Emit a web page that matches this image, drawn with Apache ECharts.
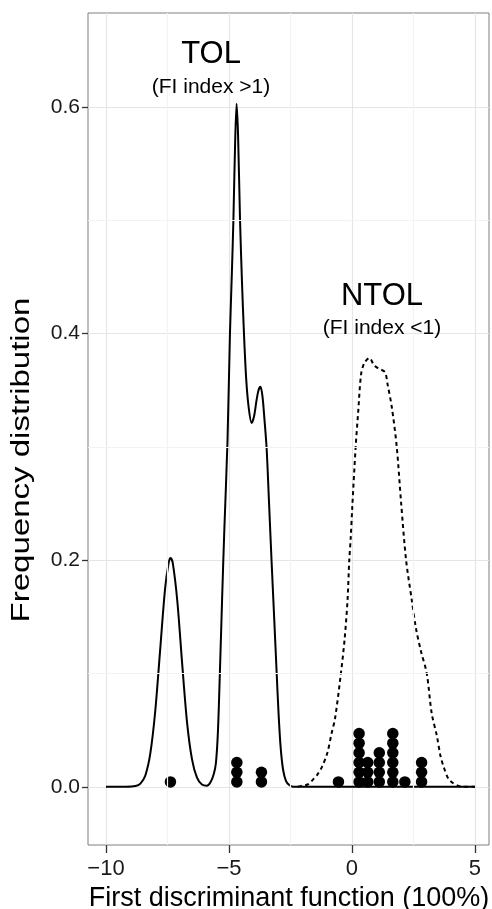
<!DOCTYPE html>
<html><head><meta charset="utf-8">
<script src="https://cdn.jsdelivr.net/npm/echarts@6/dist/echarts.min.js"></script>
<style>html,body{margin:0;padding:0;background:#fff}#c{width:492px;height:909px}</style>
</head><body><div id="c"></div>
<script>
// TOL density (solid)
const tolX = [-10, -9.2, -8.8, -8.6, -8.4, -8.2, -8.0, -7.8, -7.6, -7.45, -7.37, -7.28, -7.1, -6.9, -6.7, -6.5, -6.3, -6.1, -5.9, -5.75, -5.62, -5.53, -5.45, -5.37, -5.28, -5.19, -5.06, -4.96, -4.88, -4.82, -4.75, -4.69, -4.63, -4.55, -4.47, -4.39, -4.3, -4.2, -4.08, -3.98, -3.88, -3.8, -3.72, -3.64, -3.56, -3.47, -3.37, -3.27, -3.16, -3.06, -2.98, -2.9, -2.8, -2.68, -2.55, -2.4, -2.2, 5];
const tolY = [0, 0, 0.0006, 0.0028, 0.010, 0.029, 0.066, 0.120, 0.174, 0.198, 0.202, 0.197, 0.164, 0.108, 0.056, 0.024, 0.008, 0.002, 0.001, 0.004, 0.011, 0.021, 0.048, 0.100, 0.165, 0.226, 0.305, 0.400, 0.455, 0.500, 0.568, 0.603, 0.575, 0.500, 0.445, 0.400, 0.360, 0.335, 0.321, 0.327, 0.341, 0.350, 0.353, 0.345, 0.325, 0.299, 0.250, 0.200, 0.148, 0.100, 0.063, 0.035, 0.015, 0.005, 0.0015, 0, 0, 0];
// NTOL density (dashed)
const ntolX = [-2.2, -2.0, -1.8, -1.64, -1.4, -1.21, -1.0, -0.83, -0.69, -0.45, -0.3, -0.18, -0.11, -0.05, 0.01, 0.15, 0.25, 0.37, 0.5, 0.71, 0.9, 1.1, 1.34, 1.45, 1.62, 1.82, 2.0, 2.2, 2.43, 2.6, 2.8, 3.04, 3.24, 3.45, 3.6, 3.72, 3.92, 4.12, 4.3, 4.5, 5];
const ntolY = [0, 0.001, 0.002, 0.005, 0.011, 0.018, 0.030, 0.047, 0.060, 0.100, 0.130, 0.165, 0.200, 0.220, 0.246, 0.300, 0.330, 0.364, 0.374, 0.3785, 0.372, 0.369, 0.366, 0.355, 0.335, 0.300, 0.250, 0.200, 0.165, 0.140, 0.120, 0.100, 0.065, 0.045, 0.027, 0.018, 0.007, 0.003, 0.001, 0, 0];
// Dot plot columns (position, number of stacked dots)
const dotX = [-7.38, -4.68, -3.68, -0.55, 0.29, 0.64, 1.11, 1.66, 2.15, 2.83];
const dotCount = [1, 3, 2, 1, 6, 3, 4, 6, 1, 3];
// Axis ticks
const xTicks = [-10, -5, 0, 5];
const xMinor = [-7.5, -2.5, 2.5];
const yTicks = [0, 0.2, 0.4, 0.6];
const yMinor = [0.1, 0.3, 0.5];
// Annotations
const annText = ['TOL', '(FI index >1)', 'NTOL', '(FI index <1)'];
const annX = [-5.73, -5.73, 1.22, 1.22];
const annY = [0.6466, 0.6176, 0.433, 0.405];

const FONT = '"Liberation Sans", Arial, Helvetica, sans-serif';
const dotStep = 0.00855;
const dots = [];
dotX.forEach((x, i) => { for (let k = 0; k < dotCount[i]; k++) dots.push([x, (k + 0.5) * dotStep]); });

const chart = echarts.init(document.getElementById('c'), null, {renderer: 'canvas'});
const minus = v => String(v).replace('-', '\u2212');
const minorStyle = {color: '#f3f3f3', width: 1.2, type: 'solid', opacity: 1};
chart.setOption({
  animation: false,
  backgroundColor: '#fff',
  grid: {left: 88, right: 3, top: 13, bottom: 64, show: true, borderColor: '#7f7f7f', borderWidth: 1, backgroundColor: 'transparent'},
  xAxis: {
    type: 'value', min: -10.73, max: 5.57, position: 'bottom',
    axisLine: {show: false, onZero: false},
    splitLine: {show: true, lineStyle: {color: '#e5e5e5', width: 1.2}},
    axisTick: {show: true, customValues: xTicks, length: 8, lineStyle: {color: '#333', width: 1.3}},
    axisLabel: {customValues: xTicks, formatter: minus, fontFamily: FONT, fontSize: 22, color: '#1a1a1a', margin: 13}
  },
  yAxis: {
    type: 'value', min: -0.0514, max: 0.683, position: 'left',
    axisLine: {show: false, onZero: false},
    splitLine: {show: true, lineStyle: {color: '#e5e5e5', width: 1.2}},
    axisTick: {show: true, customValues: yTicks, length: 6, lineStyle: {color: '#333', width: 1.3}},
    axisLabel: {customValues: yTicks, formatter: v => v.toFixed(1), fontFamily: FONT, fontSize: 21, color: '#1a1a1a', margin: 8}
  },
  graphic: [
    {type: 'text', x: 289, y: 899, style: {text: 'First discriminant function (100%)', font: '27px ' + FONT, fill: '#000', textAlign: 'center', textVerticalAlign: 'middle'}},
    {type: 'text', x: 22, y: 460, rotation: Math.PI / 2, scaleX: 1.27, style: {text: 'Frequency distribution', font: '26px ' + FONT, fill: '#000', textAlign: 'center', textVerticalAlign: 'middle'}}
  ],
  series: [
    {
      type: 'scatter', data: [], silent: true, z: 1,
      markLine: {
        silent: true, symbol: 'none', label: {show: false}, animation: false,
        data: [
          ...xMinor.map(v => ({xAxis: v, lineStyle: minorStyle})),
          ...yMinor.map(v => ({yAxis: v, lineStyle: minorStyle}))
        ]
      }
    },
    {
      type: 'line', z: 2, data: ntolX.map((x, i) => [x, ntolY[i]]), showSymbol: false, smooth: 0.3,
      lineStyle: {color: '#000', width: 2, type: [4, 3.5]}
    },
    {
      type: 'line', z: 3, data: tolX.map((x, i) => [x, tolY[i]]), showSymbol: false, smooth: 0.3,
      lineStyle: {color: '#000', width: 2}
    },
    {
      type: 'scatter', z: 4, data: dots, symbolSize: 11.5, itemStyle: {color: '#000', opacity: 1}, silent: true
    },
    {
      type: 'scatter', z: 5, symbolSize: 0, silent: true, itemStyle: {opacity: 1, color: '#000'},
      data: annText.map((t, i) => ({value: [annX[i], annY[i]], name: t, label: {fontSize: (t.startsWith('(') ? 21 : 31)}})),
      label: {show: true, position: 'inside', color: '#000', opacity: 1, fontFamily: FONT, formatter: p => p.name}
    }
  ]
});
</script></body></html>
